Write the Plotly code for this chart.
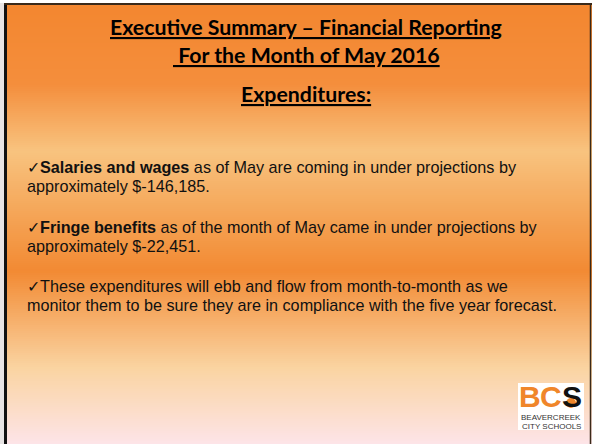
import numpy as np
import plotly.graph_objects as go

W, H = 594, 444

title_lines = ["Executive Summary – Financial Reporting", " For the Month of May 2016", "Expenditures:"]
title_y = [27, 55, 94]
title_x = 306

bullets = [
    ("Salaries and wages", " as of May are coming in under projections by", "approximately $-146,185."),
    ("Fringe benefits", " as of the month of May came in under projections by", "approximately $-22,451."),
    ("", "These expenditures will ebb and flow from month-to-month as we", "monitor them to be sure they are in compliance with the five year forecast."),
]
bullet_y = [167, 227, 286]
line_gap = 19

logo_letters = ["B", "C", "S"]
logo_letter_colors = ["#F0862A", "#F0862A", "#111111"]
logo_words = ["BEAVERCREEK", "CITY SCHOOLS"]

grad_stops = [
    (0.00, "#F3862F"),
    (0.19, "#F48E3C"),
    (0.34, "#F8C37F"),
    (0.61, "#F28A33"),
    (0.83, "#FAD4A2"),
    (1.00, "#FDE4E8"),
]

ys = np.arange(0, H + 1, 2)
fig = go.Figure()
fig.add_trace(go.Heatmap(
    x=[0, W], y=ys, z=[[v, v] for v in ys],
    colorscale=[[s, c] for s, c in grad_stops],
    showscale=False, hoverinfo="skip", zmin=0, zmax=H,
))

ann = []
for t, y in zip(title_lines, title_y):
    ann.append(dict(x=title_x, y=y, text="<b>" + t + "</b>", showarrow=False,
                    xanchor="center", yanchor="middle",
                    font=dict(family="Lato", size=21.3, color="#000000", lineposition="under")))

for (bold, rest, line2), y in zip(bullets, bullet_y):
    txt = "✓" + ("<b>" + bold + "</b>" if bold else "") + rest
    ann.append(dict(x=25, y=y, text=txt, showarrow=False, xanchor="left", yanchor="middle",
                    font=dict(family="Liberation Sans", size=16.2, color="#111111")))
    ann.append(dict(x=25, y=y + line_gap, text=line2, showarrow=False, xanchor="left", yanchor="middle",
                    font=dict(family="Liberation Sans", size=16.2, color="#111111")))

# logo
logo_font = "Liberation Sans Narrow, Liberation Sans"
for i, (ch, col) in enumerate(zip(logo_letters, logo_letter_colors)):
    ann.append(dict(x=530 + 21 * i, y=396, text="<b>" + ch + "</b>", showarrow=False,
                    xanchor="center", yanchor="middle",
                    font=dict(family=logo_font, size=30, color=col)))
for i, w in enumerate(logo_words):
    ann.append(dict(x=551, y=417.5 + 9 * i, text=w, showarrow=False, xanchor="center", yanchor="middle",
                    font=dict(family=logo_font, size=8, color="#333333")))

shapes = [
    # outside-frame margins
    dict(type="rect", x0=0, x1=4, y0=0, y1=H, fillcolor="#E8E4E4", line_width=0, layer="above"),
    dict(type="rect", x0=592, x1=W, y0=0, y1=H, fillcolor="#FFFFFF", line_width=0, layer="above"),
    dict(type="rect", x0=0, x1=W, y0=0, y1=3, fillcolor="#FFFFFF", line_width=0, layer="above"),
    # frame lines
    dict(type="line", x0=5.5, x1=5.5, y0=3, y1=H, line=dict(color="#111111", width=3), layer="above"),
    dict(type="line", x0=4, x1=592, y0=4, y1=4, line=dict(color="#3A2A1A", width=2), layer="above"),
    dict(type="line", x0=590.5, x1=590.5, y0=3, y1=H, line=dict(color="#3A2A1A", width=1.5), layer="above"),
    # logo
    dict(type="rect", x0=518, x1=584, y0=383, y1=430, fillcolor="#FFFFFF", line_width=0, layer="above"),
    dict(type="circle", x0=566, x1=576, y0=398, y1=408, fillcolor="#F0862A", line_width=0, layer="above"),
]

fig.update_layout(
    width=W, height=H, margin=dict(l=0, r=0, t=0, b=0),
    paper_bgcolor="#FFFFFF", plot_bgcolor="#FFFFFF",
    xaxis=dict(range=[0, W], visible=False, fixedrange=True),
    yaxis=dict(range=[H, 0], visible=False, fixedrange=True),
    annotations=ann, shapes=shapes, showlegend=False,
)
fig.write_html("out.html", config={"displayModeBar": False},
               post_script="document.body.style.margin='0';document.body.style.overflow='hidden';")
